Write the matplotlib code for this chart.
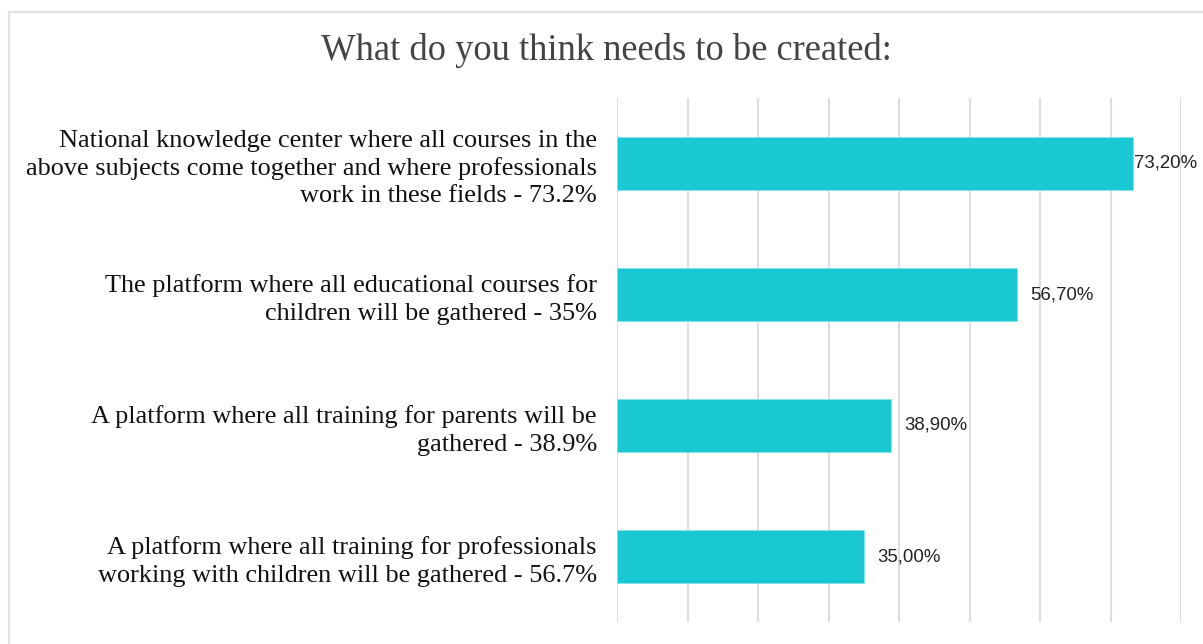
import matplotlib
matplotlib.use("Agg")
import matplotlib.pyplot as plt
from matplotlib.lines import Line2D

# Survey results
categories = [
    "National knowledge center where all courses in the\nabove subjects come together and where professionals\nwork in these fields - 73.2%",
    "The platform where all educational courses for\nchildren will be gathered - 35%",
    "A platform where all training for parents will be\ngathered - 38.9%",
    "A platform where all training for professionals\nworking with children will be gathered - 56.7%",
]
values = [73.2, 56.7, 38.9, 35.0]
value_labels = ["73,20%", "56,70%", "38,90%", "35,00%"]
title = "What do you think needs to be created:"

W, H = 1203, 644
fig = plt.figure(figsize=(W / 100, H / 100), dpi=100)
fig.patch.set_facecolor("white")

ax = fig.add_axes([617 / W, 1 - 622 / H, (1181 - 617) / W, (622 - 98) / H])

ypos = list(range(len(categories)))
ax.barh(ypos, values, height=0.4, color="#19C8D3",
        edgecolor="#7FE3EA", linewidth=0.6, zorder=3)

ax.set_xlim(0, 80)
ax.set_ylim(len(categories) - 0.5, -0.5)
ax.set_xticks(range(0, 81, 10))
ax.xaxis.grid(True, color="#DEDEDE", linewidth=1.5, zorder=0)
ax.tick_params(axis="x", length=0, labelbottom=False)
ax.tick_params(axis="y", length=0, pad=14.5)
ax.set_yticks(ypos)
ax.set_yticklabels(categories, fontfamily="Liberation Serif", fontsize=18.9,
                   color="#111111", linespacing=1.3)
for lbl in ax.get_yticklabels():
    lbl.set_horizontalalignment("right")
for s in ax.spines.values():
    s.set_visible(False)

# value annotations next to each bar
for i, (v, t) in enumerate(zip(values, value_labels)):
    off = 1 if v > 70 else 9.5
    ax.annotate(t, xy=(v, i), xytext=(off, 0), textcoords="offset points",
                va="center", ha="left", fontfamily="Liberation Sans",
                fontsize=13.4, color="#222222", clip_on=False)

fig.text(606 / W, 1 - 50 / H, title, ha="center", va="center",
         fontfamily="Liberation Serif", fontsize=26.3, color="#444444")

# light frame around the panel
fig.add_artist(Line2D([9 / W, 1.0], [1 - 12 / H, 1 - 12 / H], color="#E2E2E2",
                      linewidth=1.6, transform=fig.transFigure))
fig.add_artist(Line2D([9 / W, 9 / W], [1 - 12 / H, 0.0], color="#E2E2E2",
                      linewidth=1.6, transform=fig.transFigure))

fig.savefig("out.png", dpi=100, facecolor="white")
